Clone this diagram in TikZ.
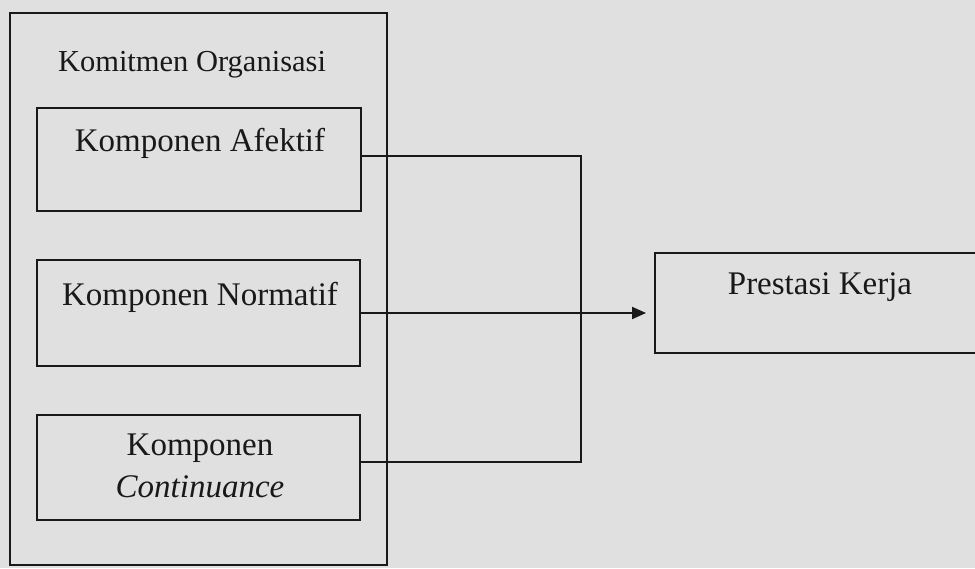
\documentclass[tikz,border=0pt]{standalone}
\usepackage{fontspec}
\setmainfont{Liberation Serif}
\usetikzlibrary{arrows.meta}
\definecolor{paper}{RGB}{224,224,224}
\definecolor{ink}{RGB}{25,25,25}
\tikzset{
  boxnode/.style={draw=ink, line width=1.9pt, inner sep=0pt},
  lbl/.style={inner sep=0pt, text=ink, font=\fontsize{33}{38}\selectfont},
  wire/.style={draw=ink, line width=1.9pt},
}
\begin{document}
\begin{tikzpicture}[x=1pt,y=-1pt]
\useasboundingbox (0,0) rectangle (975,568);
\fill[paper] (0,0) rectangle (975,568);
\clip (0,0) rectangle (975,568);
% outer box
\node[boxnode, minimum width=377pt, minimum height=552pt] (kom) at (198.5,289) {};
\node[lbl, font=\fontsize{30.5}{35}\selectfont] (komt) at (192,65) {Komitmen Organisasi};
% components
\node[boxnode, minimum width=324pt, minimum height=103pt] (afe) at (199,159.5) {};
\node[lbl] (afet) at (200,143) {Komponen Afektif};
\node[boxnode, minimum width=323pt, minimum height=106pt] (nor) at (198.5,313) {};
\node[lbl] (nort) at (200,297) {Komponen Normatif};
\node[boxnode, minimum width=323pt, minimum height=105pt] (con) at (198.5,467.5) {};
\node[lbl] (cont1) at (200,448) {Komponen};
\node[lbl] (cont2) at (200,487) {\itshape Continuance};
% outcome
\node[boxnode, minimum width=330pt, minimum height=100pt] (pre) at (820,303) {};
\node[lbl] (pret) at (820,287) {Prestasi Kerja};
% connectors
\coordinate (bus) at (581,0);
\draw[wire] ([yshift=3.5pt]afe.east) -- ([yshift=3.5pt]afe.east -| bus) -- ([yshift=5.5pt]con.east -| bus) -- ([yshift=5.5pt]con.east);
\draw[wire, -{Triangle[length=14pt,width=12pt]}, shorten >=8pt] (nor.east) -- (nor.east -| pre.west);
\end{tikzpicture}
\end{document}
